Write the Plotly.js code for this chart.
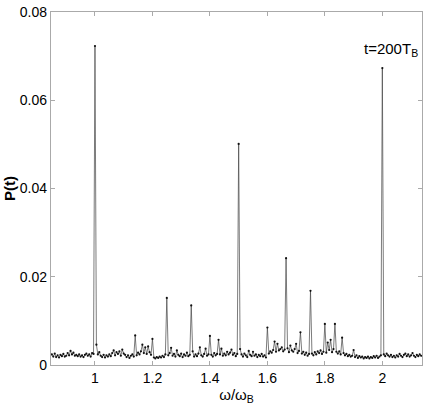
<!DOCTYPE html>
<html>
<head>
<meta charset="utf-8">
<script src="https://cdn.plot.ly/plotly-3.0.1.min.js"></script>
<style>
  html, body { margin: 0; padding: 0; background: #fff; }
  #plot { width: 431px; height: 409px; }
</style>
</head>
<body>
<div id="plot"></div>
<script>
// frequency grid: omega/omega_B, start and step
const startFreq = 0.85;
const stepFreq = 0.005;

// P(t) at t = 200 T_B, one value per grid point
const power = [
  // 0.85 - 0.945
  0.0024, 0.0019, 0.0026, 0.0018, 0.0022, 0.0017, 0.0023, 0.0020, 0.0025, 0.0019,
  0.0021, 0.0027, 0.0022, 0.0032, 0.0024, 0.0028, 0.0021, 0.0023, 0.0020, 0.0024,
  // 0.95 - 1.045
  0.0019, 0.0022, 0.0018, 0.0023, 0.0026, 0.0021, 0.0024, 0.0019, 0.0027, 0.0025,
  0.0723, 0.0046, 0.0024, 0.0029, 0.0021, 0.0018, 0.0023, 0.0017, 0.0022, 0.0019,
  // 1.05 - 1.145
  0.0024, 0.0020, 0.0027, 0.0033, 0.0022, 0.0029, 0.0025, 0.0031, 0.0021, 0.0035,
  0.0026, 0.0023, 0.0018, 0.0022, 0.0016, 0.0021, 0.0024, 0.0019, 0.0067, 0.0022,
  // 1.15 - 1.245
  0.0028, 0.0024, 0.0031, 0.0046, 0.0027, 0.0040, 0.0025, 0.0042, 0.0029, 0.0023,
  0.0059, 0.0017, 0.0015, 0.0018, 0.0016, 0.0019, 0.0017, 0.0021, 0.0018, 0.0024,
  // 1.25 - 1.345
  0.0152, 0.0022, 0.0027, 0.0039, 0.0021, 0.0025, 0.0019, 0.0033, 0.0023, 0.0020,
  0.0026, 0.0018, 0.0024, 0.0021, 0.0028, 0.0020, 0.0023, 0.0135, 0.0031, 0.0019,
  // 1.35 - 1.445
  0.0024, 0.0020, 0.0026, 0.0040, 0.0022, 0.0019, 0.0025, 0.0037, 0.0021, 0.0024,
  0.0066, 0.0023, 0.0019, 0.0027, 0.0022, 0.0025, 0.0057, 0.0024, 0.0037, 0.0021,
  // 1.45 - 1.545
  0.0026, 0.0022, 0.0030, 0.0024, 0.0028, 0.0035, 0.0023, 0.0027, 0.0020, 0.0025,
  0.0501, 0.0036, 0.0024, 0.0019, 0.0026, 0.0022, 0.0018, 0.0032, 0.0023, 0.0020,
  // 1.55 - 1.645
  0.0030, 0.0021, 0.0024, 0.0018, 0.0023, 0.0020, 0.0025, 0.0019, 0.0022, 0.0017,
  0.0085, 0.0026, 0.0031, 0.0028, 0.0034, 0.0053, 0.0030, 0.0048, 0.0033, 0.0036,
  // 1.65 - 1.745
  0.0040, 0.0031, 0.0035, 0.0242, 0.0038, 0.0029, 0.0044, 0.0033, 0.0030, 0.0036,
  0.0048, 0.0027, 0.0032, 0.0074, 0.0026, 0.0030, 0.0023, 0.0028, 0.0021, 0.0025,
  // 1.75 - 1.845
  0.0168, 0.0026, 0.0022, 0.0029, 0.0024, 0.0031, 0.0027, 0.0033, 0.0025, 0.0030,
  0.0093, 0.0028, 0.0051, 0.0034, 0.0057, 0.0029, 0.0036, 0.0093, 0.0030, 0.0026,
  // 1.85 - 1.945
  0.0031, 0.0024, 0.0062, 0.0027, 0.0022, 0.0025, 0.0020, 0.0023, 0.0019, 0.0021,
  0.0034, 0.0018, 0.0022, 0.0016, 0.0020, 0.0017, 0.0019, 0.0015, 0.0018, 0.0016,
  // 1.95 - 2.045
  0.0019, 0.0015, 0.0018, 0.0016, 0.0020, 0.0017, 0.0021, 0.0016, 0.0019, 0.0022,
  0.0673, 0.0024, 0.0020, 0.0026, 0.0022, 0.0019, 0.0023, 0.0018, 0.0021, 0.0017,
  // 2.05 - 2.135
  0.0022, 0.0019, 0.0025, 0.0021, 0.0018, 0.0023, 0.0026, 0.0020, 0.0024, 0.0019,
  0.0022, 0.0027, 0.0021, 0.0018, 0.0023, 0.0020, 0.0024, 0.0021
];

const xTicks = [1, 1.2, 1.4, 1.6, 1.8, 2];
const yTicks = [0, 0.02, 0.04, 0.06, 0.08];
const yTickText = ['0', '0.02', '0.04', '0.06', '0.08'];

const trace = {
  x0: startFreq,
  dx: stepFreq,
  y: power,
  type: 'scatter',
  mode: 'lines+markers',
  line: { color: '#444', width: 0.7 },
  marker: { color: '#111', size: 2.2 },
  hoverinfo: 'skip'
};

const axisStyle = {
  showline: true,
  linecolor: '#aaa',
  linewidth: 1.2,
  mirror: 'ticks',
  ticks: 'inside',
  ticklen: 4,
  tickcolor: '#aaa',
  showgrid: false,
  zeroline: false,
  tickfont: { family: 'Liberation Sans, Arial, sans-serif', size: 14, color: '#000' }
};

const layout = {
  width: 431,
  height: 409,
  margin: { l: 51, r: 9, t: 12, b: 44 },
  paper_bgcolor: '#fff',
  plot_bgcolor: '#fff',
  showlegend: false,
  xaxis: Object.assign({}, axisStyle, {
    range: [0.847, 2.138],
    tickvals: xTicks,
    ticktext: xTicks.map(String),
    title: {
      text: 'ω/ω<sub>B</sub>',
      font: { family: 'Liberation Sans, Arial, sans-serif', size: 15, color: '#000' },
      standoff: 0
    }
  }),
  yaxis: Object.assign({}, axisStyle, {
    range: [0, 0.08],
    tickvals: yTicks,
    ticktext: yTickText,
    title: {
      text: '<b>P(t)</b>',
      font: { family: 'Liberation Sans, Arial, sans-serif', size: 15, color: '#000' },
      standoff: 0
    }
  }),
  annotations: [{
    xref: 'x', yref: 'y',
    x: 2.03, y: 0.0715,
    text: 't=200T<sub>B</sub>',
    showarrow: false,
    font: { family: 'Liberation Sans, Arial, sans-serif', size: 15, color: '#000' }
  }]
};

Plotly.newPlot('plot', [trace], layout, { displayModeBar: false, staticPlot: true });
</script>
</body>
</html>
